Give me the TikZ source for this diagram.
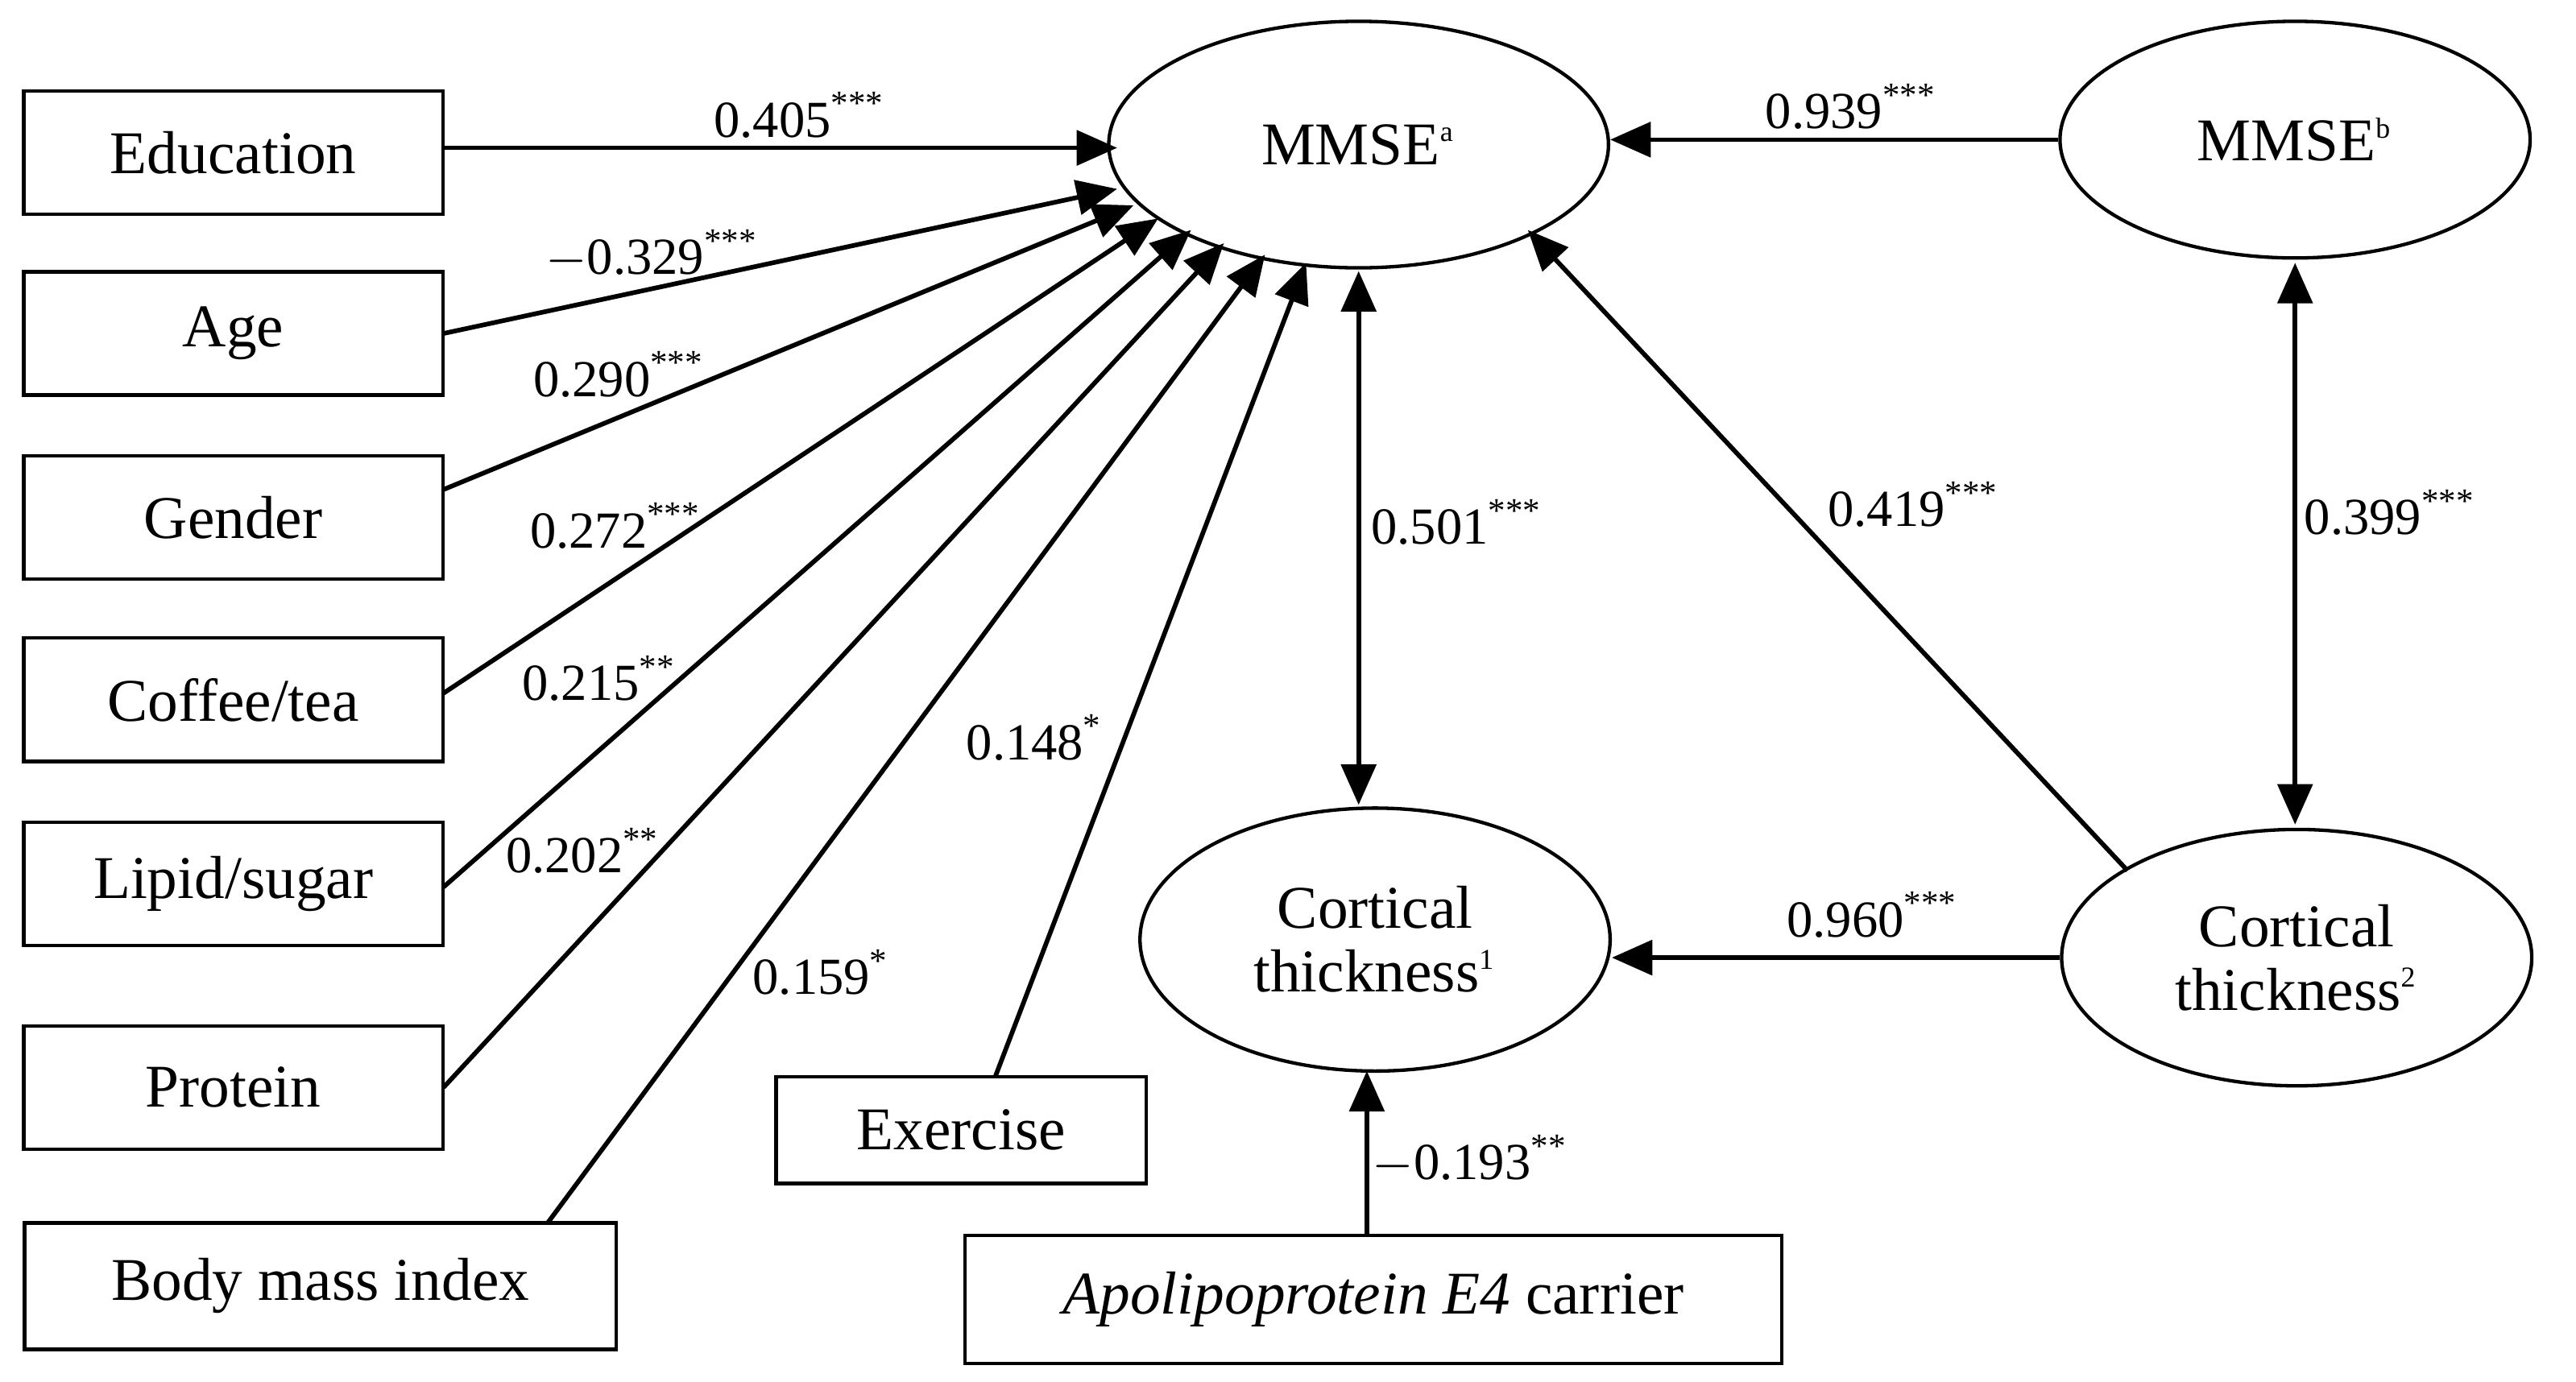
\documentclass[tikz,border=0pt]{standalone}
\usepackage{fontspec}
\setmainfont{Liberation Serif}
\usetikzlibrary{shapes.geometric,arrows.meta}
\begin{document}
\begin{tikzpicture}[x=0.01cm,y=-0.01cm,
 box/.style={draw,line width=0.6pt,minimum height=0.75cm,font=\fontsize{10.5}{12}\selectfont,inner sep=0pt},
 ell/.style={draw,ellipse,line width=0.6pt,font=\fontsize{10.5}{11}\selectfont,align=center,inner sep=0pt},
 arr/.style={line width=0.8pt,-{Triangle[length=7pt,width=6pt]}},
 darr/.style={line width=0.8pt,{Triangle[length=7pt,width=6pt]}-{Triangle[length=7pt,width=6pt]}},
 lab/.style={font=\fontsize{9}{10}\selectfont,inner sep=1pt}]
\useasboundingbox (0,0) rectangle (1568,841);
\node[box,minimum width=2.55cm] (edu) at (142,93) {Education};
\node[box,minimum width=2.55cm] (age) at (142,203) {Age};
\node[box,minimum width=2.55cm] (gen) at (142,315) {Gender};
\node[box,minimum width=2.55cm] (cof) at (142,426) {Coffee/tea};
\node[box,minimum width=2.55cm] (lip) at (142,538) {Lipid/sugar};
\node[box,minimum width=2.55cm] (pro) at (142,662) {Protein};
\node[box,minimum width=3.6cm,minimum height=0.77cm] (bmi) at (195,783) {Body mass index};
\node[box,minimum width=2.25cm,minimum height=0.65cm] (exe) at (585,688) {Exercise};
\node[box,minimum width=4.97cm,minimum height=0.78cm] (apo) at (836,791) {\textit{Apolipoprotein E4} carrier};
\node[ell,minimum width=3.04cm,minimum height=1.5cm] (ma) at (827,88) {MMSE\textsuperscript{\tiny a}};
\node[ell,minimum width=2.86cm,minimum height=1.44cm] (mb) at (1397,85) {MMSE\textsuperscript{\tiny b}};
\node[ell,minimum width=2.86cm,minimum height=1.6cm] (c1) at (837,572) {Cortical\\thickness\textsuperscript{\tiny 1}};
\node[ell,minimum width=2.86cm,minimum height=1.56cm] (c2) at (1398,583) {Cortical\\thickness\textsuperscript{\tiny 2}};
\coordinate (e1) at (680,90); \coordinate (e2) at (680,115); \coordinate (e3) at (690,125);
\coordinate (e4) at (705,133); \coordinate (e5) at (725,140); \coordinate (e6) at (745,148);
\coordinate (e7) at (770,155); \coordinate (e8) at (795,160);
\coordinate (s1) at (270,90); \coordinate (s2) at (270,203); \coordinate (s3) at (270,298);
\coordinate (s4) at (270,422); \coordinate (s5) at (270,540); \coordinate (s6) at (270,662);
\coordinate (s7) at (333,745); \coordinate (s8) at (606,655);
\draw[arr] (s1) -- (e1); \draw[arr] (s2) -- (e2); \draw[arr] (s3) -- (e3);
\draw[arr] (s4) -- (e4); \draw[arr] (s5) -- (e5); \draw[arr] (s6) -- (e6);
\draw[arr] (s7) -- (e7); \draw[arr] (s8) -- (e8);
\draw[arr] (mb.west) -- (ma.east|-mb.west);
\draw[arr] (c2.west) -- (c1.east|-c2.west);
\coordinate (c2s) at (1295,530); \coordinate (mae) at (930,140);
\draw[arr] (c2s) -- (mae);
\draw[darr] (827,165) -- (827,490);
\draw[darr] (1397,160) -- (1397,502);
\draw[arr] (apo.north-|832,0) -- (832,652);
\node[lab] at (487,70) {0.405\textsuperscript{***}};
\node[lab] at (397,155) {$-$0.329\textsuperscript{***}};
\node[lab] at (377,228) {0.290\textsuperscript{***}};
\node[lab] at (375,320) {0.272\textsuperscript{***}};
\node[lab] at (365,413) {0.215\textsuperscript{**}};
\node[lab] at (355,518) {0.202\textsuperscript{**}};
\node[lab] at (500,592) {0.159\textsuperscript{*}};
\node[lab] at (630,449) {0.148\textsuperscript{*}};
\node[lab] at (887,318) {0.501\textsuperscript{***}};
\node[lab] at (1165,307) {0.419\textsuperscript{***}};
\node[lab] at (1455,312) {0.399\textsuperscript{***}};
\node[lab] at (1127,65) {0.939\textsuperscript{***}};
\node[lab] at (1140,557) {0.960\textsuperscript{***}};
\node[lab] at (895,706) {$-$0.193\textsuperscript{**}};
\end{tikzpicture}
\end{document}
